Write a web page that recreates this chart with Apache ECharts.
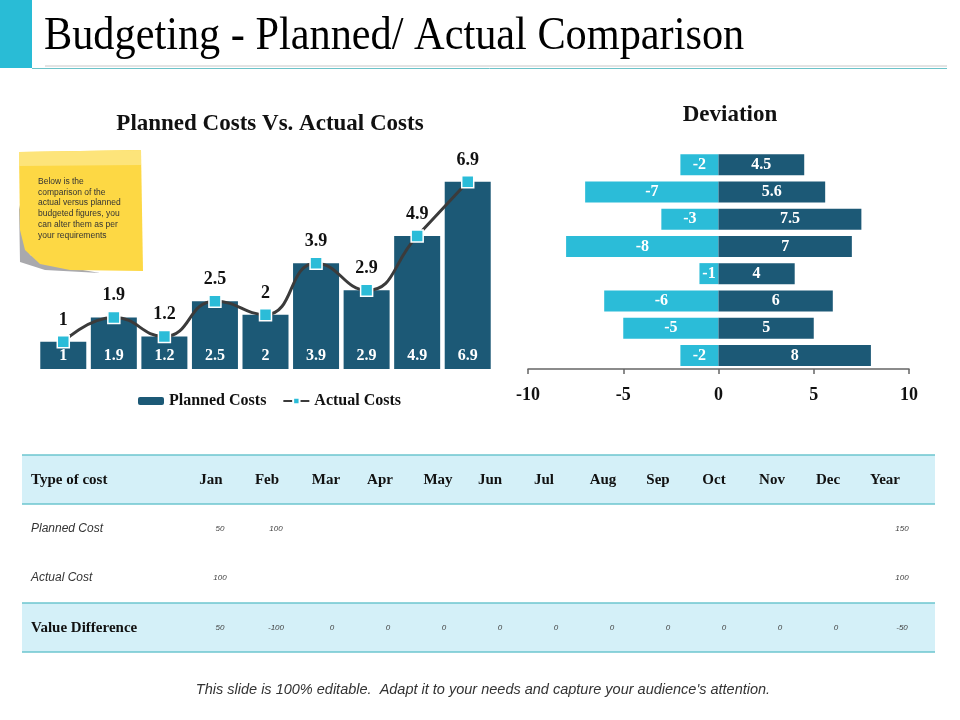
<!DOCTYPE html>
<html>
<head>
<meta charset="utf-8">
<script src="https://cdn.jsdelivr.net/npm/echarts@6/dist/echarts.min.js"></script>
<style>
  html, body { margin: 0; padding: 0; background: #fff; }
  #main { width: 960px; height: 720px; }
</style>
</head>
<body>
<div id="main"></div>
<script>
// left chart
var costCategories = ["1", "2", "3", "4", "5", "6", "7", "8", "9"];
var plannedCosts = [1, 1.9, 1.2, 2.5, 2, 3.9, 2.9, 4.9, 6.9];
var actualCosts = [1, 1.9, 1.2, 2.5, 2, 3.9, 2.9, 4.9, 6.9];

// deviation chart (top row first)
var deviationRows = ["1", "2", "3", "4", "5", "6", "7", "8"];
var deviationNeg = [-2, -7, -3, -8, -1, -6, -5, -2];
var deviationPos = [4.5, 5.6, 7.5, 7, 4, 6, 5, 8];

// table
var tableHeaders = ["Jan", "Feb", "Mar", "Apr", "May", "Jun", "Jul", "Aug", "Sep", "Oct", "Nov", "Dec", "Year"];
var plannedRow = [50, 100, null, null, null, null, null, null, null, null, null, null, 150];
var actualRow = [100, null, null, null, null, null, null, null, null, null, null, null, 100];
var diffRow = [50, -100, 0, 0, 0, 0, 0, 0, 0, 0, 0, 0, -50];

var serif = "'Liberation Serif', 'Times New Roman', serif";
var sans = "'Liberation Sans', Arial, sans-serif";
var darkBlue = "#1c5976";
var cyan = "#2bbcd8";

var headerX = [211, 267, 326, 380, 438, 490, 544, 603, 658, 714, 772, 828, 885];
function valueX(i) {
  return i === 12 ? 902 : 220 + 56 * i;
}

var graphics = [];
// title block
graphics.push({ type: "rect", shape: { x: 0, y: 0, width: 32, height: 68 }, style: { fill: "#29bcd6" } });
graphics.push({ type: "line", shape: { x1: 45, y1: 66, x2: 947, y2: 66 }, style: { stroke: "#c8c8c8", lineWidth: 1 } });
graphics.push({ type: "line", shape: { x1: 32, y1: 68.5, x2: 947, y2: 68.5 }, style: { stroke: "#6cc3c9", lineWidth: 1 } });
graphics.push({
  type: "text", x: 44, y: 37, scaleX: 0.9,
  style: { text: "Budgeting - Planned/ Actual Comparison", font: "47px " + serif, fill: "#000", verticalAlign: "middle" }
});

// sticky note
graphics.push({
  type: "polygon",
  shape: { points: [[19, 205], [20, 262], [45, 270], [100, 273], [60, 266], [30, 255]] },
  style: { fill: "#a9a9ad" }
});
graphics.push({
  type: "polygon",
  shape: { points: [[19, 152], [141, 150], [143, 271], [70, 270], [40, 264], [25, 250], [20, 230]] },
  style: { fill: "#fdd844" }
});
graphics.push({
  type: "polygon",
  shape: { points: [[19, 152], [141, 150], [141, 165], [19, 166]] },
  style: { fill: "#fde47a" }
});
graphics.push({
  type: "text", left: 38, top: 176,
  style: {
    text: "Below is the\ncomparison of the\nactual versus planned\nbudgeted figures, you\ncan alter them as per\nyour requirements",
    font: "8.5px " + sans, fill: "#333", lineHeight: 10.8
  }
});

// table
graphics.push({ type: "rect", shape: { x: 22, y: 455, width: 913, height: 49 }, style: { fill: "#d4f0f8" } });
graphics.push({ type: "rect", shape: { x: 22, y: 603, width: 913, height: 49 }, style: { fill: "#d4f0f8" } });
[455, 504, 603, 652].forEach(function (y) {
  graphics.push({ type: "line", shape: { x1: 22, y1: y, x2: 935, y2: y }, style: { stroke: "#6cc6cf", lineWidth: 1.5 } });
});
graphics.push({ type: "text", x: 31, y: 480, style: { text: "Type of cost", font: "bold 15px " + serif, fill: "#111", verticalAlign: "middle" } });
graphics.push({ type: "text", x: 31, y: 628, style: { text: "Value Difference", font: "bold 15px " + serif, fill: "#111", verticalAlign: "middle" } });
graphics.push({ type: "text", x: 31, y: 529, style: { text: "Planned Cost", font: "italic 12px " + sans, fill: "#333", verticalAlign: "middle" } });
graphics.push({ type: "text", x: 31, y: 578, style: { text: "Actual Cost", font: "italic 12px " + sans, fill: "#333", verticalAlign: "middle" } });
tableHeaders.forEach(function (h, i) {
  graphics.push({ type: "text", x: headerX[i], y: 480, style: { text: h, font: "bold 15px " + serif, fill: "#111", align: "center", verticalAlign: "middle" } });
});
[[plannedRow, 529], [actualRow, 578], [diffRow, 628]].forEach(function (r) {
  r[0].forEach(function (v, i) {
    if (v === null) return;
    graphics.push({ type: "text", x: valueX(i), y: r[1], style: { text: String(v), font: "italic 8px " + sans, fill: "#444", align: "center", verticalAlign: "middle" } });
  });
});

// footer
graphics.push({
  type: "text", x: 483, y: 690,
  style: {
    text: "This slide is 100% editable.  Adapt it to your needs and capture your audience's attention.",
    font: "italic 14.5px " + sans, fill: "#333", align: "center", verticalAlign: "middle"
  }
});

var chart = echarts.init(document.getElementById("main"));
var option = {
  animation: false,
  title: [
    { text: "Planned Costs Vs. Actual Costs", left: 265, top: 108, textAlign: "center",
      textStyle: { fontFamily: serif, fontSize: 23, fontWeight: "bold", color: "#111" } },
    { text: "Deviation", left: 725, top: 99, textAlign: "center",
      textStyle: { fontFamily: serif, fontSize: 23, fontWeight: "bold", color: "#111" } }
  ],
  legend: {
    left: 133, top: 388, itemWidth: 26, itemHeight: 8, itemGap: 16,
    data: ["Planned Costs", "Actual Costs"],
    textStyle: { fontFamily: serif, fontSize: 16, fontWeight: "bold", color: "#111" }
  },
  grid: [
    { left: 38, right: 467, top: 179, bottom: 351 },
    { left: 528, right: 51, top: 151, bottom: 351 }
  ],
  xAxis: [
    { gridIndex: 0, type: "category", data: costCategories, show: false },
    {
      gridIndex: 1, type: "value", min: -10, max: 10, interval: 5,
      axisLine: { show: true, lineStyle: { color: "#666", width: 1.5 } },
      axisTick: { show: true, length: 5, lineStyle: { color: "#666", width: 1.5 } },
      splitLine: { show: false },
      axisLabel: { margin: 17, fontFamily: serif, fontSize: 18, fontWeight: "bold", color: "#111" }
    }
  ],
  yAxis: [
    { gridIndex: 0, type: "value", min: 0, max: 7, show: false },
    { gridIndex: 1, type: "category", data: deviationRows, inverse: true, show: false }
  ],
  series: [
    {
      name: "Planned Costs", type: "bar", xAxisIndex: 0, yAxisIndex: 0,
      data: plannedCosts, barWidth: 46,
      itemStyle: { color: darkBlue },
      label: { show: true, position: "insideBottom", distance: 5, color: "#fff",
        fontFamily: serif, fontSize: 16, fontWeight: "bold" }
    },
    {
      name: "Actual Costs", type: "line", xAxisIndex: 0, yAxisIndex: 0,
      data: actualCosts, smooth: 0.5, z: 5,
      symbol: "rect", symbolSize: 12,
      lineStyle: { color: "#3b3b3b", width: 3 },
      itemStyle: { color: cyan, borderColor: "#fff", borderWidth: 1.5 },
      label: { show: true, position: "top", distance: 6, color: "#111",
        fontFamily: serif, fontSize: 18, fontWeight: "bold" }
    },
    {
      name: "Negative", type: "bar", xAxisIndex: 1, yAxisIndex: 1, stack: "dev",
      data: deviationNeg, barWidth: 21,
      itemStyle: { color: cyan },
      label: { show: true, position: "inside", color: "#fff",
        fontFamily: serif, fontSize: 16, fontWeight: "bold" }
    },
    {
      name: "Positive", type: "bar", xAxisIndex: 1, yAxisIndex: 1, stack: "dev",
      data: deviationPos, barWidth: 21,
      itemStyle: { color: darkBlue },
      label: { show: true, position: "inside", color: "#fff",
        fontFamily: serif, fontSize: 16, fontWeight: "bold" }
    }
  ],
  graphic: graphics
};
chart.setOption(option);
</script>
</body>
</html>
